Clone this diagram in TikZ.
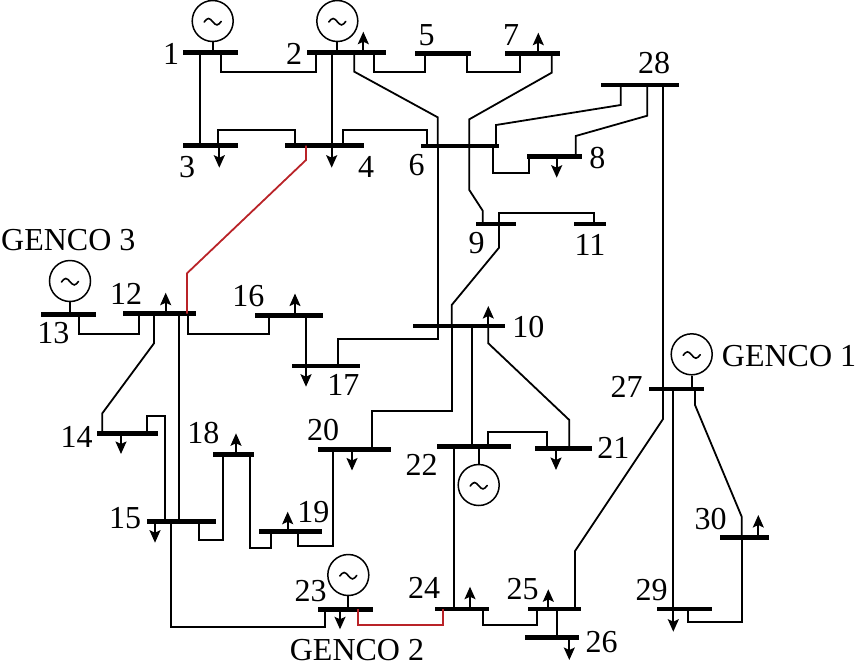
\documentclass[tikz,border=0pt]{standalone}
\usepackage{fontspec}
\setmainfont{Liberation Serif}
\usetikzlibrary{arrows.meta}
\definecolor{linered}{RGB}{185,35,40}
\begin{document}
\begin{tikzpicture}[x=1pt,y=-1pt,
  bus/.style={rectangle,fill=black,draw=none,inner sep=0pt,minimum height=4.8pt},
  ln/.style={line width=1.8pt},
  redln/.style={line width=1.8pt,draw=linered},
  load/.style={line width=1.8pt,-{Stealth[length=12.5pt,width=11pt,inset=2.5pt]}},
  gen/.style={circle,draw,line width=1.5pt,minimum size=41pt,inner sep=0pt},
  tld/.style={line width=1.6pt,line cap=round},
  lbl/.style={inner sep=0pt,font=\fontsize{32}{32}\selectfont}]
\useasboundingbox (0,0) rectangle (861,670);

% ---------- buses ----------
\node[bus,minimum width=55.6pt] (b1)  at (210.5,52.7) {};
\node[bus,minimum width=79.3pt] (b2)  at (346.3,52.7) {};
\node[bus,minimum width=55.7pt] (b5)  at (442.8,53.3) {};
\node[bus,minimum width=55pt]   (b7)  at (532.5,53.3) {};
\node[bus,minimum width=78.6pt] (b28) at (640,85) {};
\node[bus,minimum width=55.6pt] (b3)  at (210.5,145.7) {};
\node[bus,minimum width=79.3pt] (b4)  at (324.7,145.7) {};
\node[bus,minimum width=78.6pt] (b6)  at (460,146) {};
\node[bus,minimum width=55pt]   (b8)  at (554.2,156.7) {};
\node[bus,minimum width=40pt]   (b9)  at (495.5,224) {};
\node[bus,minimum width=32pt]   (b11) at (589.5,224) {};
\node[bus,minimum width=55.3pt] (b13) at (68.3,314.3) {};
\node[bus,minimum width=73.3pt] (b12) at (159.3,313.5) {};
\node[bus,minimum width=67.7pt] (b16) at (288.8,315.5) {};
\node[bus,minimum width=92.3pt] (b10) at (458.8,326) {};
\node[bus,minimum width=68.3pt] (b17) at (325.8,366) {};
\node[bus,minimum width=54.7pt] (b27) at (676.7,389) {};
\node[bus,minimum width=60.4pt] (b14) at (127.5,433.3) {};
\node[bus,minimum width=72.5pt] (b20) at (354.7,449.5) {};
\node[bus,minimum width=74pt]   (b22) at (473.7,446.7) {};
\node[bus,minimum width=56.7pt] (b21) at (563.3,448.7) {};
\node[bus,minimum width=41.6pt] (b18) at (233.5,454.3) {};
\node[bus,minimum width=68.7pt] (b15) at (181.7,521.7) {};
\node[bus,minimum width=62.7pt] (b19) at (290.3,531.7) {};
\node[bus,minimum width=49.3pt] (b30) at (744.7,537.7) {};
\node[bus,minimum width=55pt]   (b23) at (345.8,609.3) {};
\node[bus,minimum width=54.3pt] (b24) at (462.2,609) {};
\node[bus,minimum width=53.3pt] (b25) at (554.3,609) {};
\node[bus,minimum width=55pt]   (b29) at (684.2,609) {};
\node[bus,minimum width=54.3pt] (b26) at (552.2,637.7) {};

% ---------- generators ----------
\node[gen] (g1)  at (212.7,21) {};
\node[gen] (g2)  at (337.3,21) {};
\node[gen] (g13) at (70,281) {};
\node[gen] (g22) at (478.7,485) {};
\node[gen] (g23) at (348.3,575) {};
\node[gen] (g27) at (691.7,354.3) {};
\foreach \g in {g1,g2,g13,g22,g23,g27}{
  \draw[tld] (\g) ++(-8.5,1) sin ++(4.25,-3.5) cos ++(4.25,3.2) sin ++(4.25,3.2) cos ++(4.25,-3.5);
}
\draw[ln] (g1) -- (g1 |- b1);
\draw[ln] (g2) -- (g2 |- b2);
\draw[ln] (g13) -- (g13 |- b13);
\draw[ln] (g22) -- (g22 |- b22);
\draw[ln] (g23) -- (g23 |- b23);
\draw[ln] (g27) -- (g27 |- b27);

% ---------- labels ----------
\node[lbl] (l1)  at (171,54) {1};
\node[lbl] (l2)  at (294,54) {2};
\node[lbl] (l3)  at (187,167) {3};
\node[lbl] (l4)  at (366,167) {4};
\node[lbl] (l5)  at (426.7,35) {5};
\node[lbl] (l7)  at (511,35) {7};
\node[lbl] (l28) at (654,63) {28};
\node[lbl] (l6)  at (416.7,165) {6};
\node[lbl] (l8)  at (597.3,158.3) {8};
\node[lbl] (l9)  at (476.7,243.3) {9};
\node[lbl] (l11) at (590,245) {11};
\node[lbl] (l10) at (528.3,326.7) {10};
\node[lbl] (lg3) at (68.3,240) {GENCO 3};
\node[lbl] (l13) at (53.3,333.3) {13};
\node[lbl] (l12) at (126,294) {12};
\node[lbl] (l16) at (248.3,296) {16};
\node[lbl] (l17) at (343.3,385) {17};
\node[lbl] (l27) at (626.7,386.7) {27};
\node[lbl] (lg1) at (789,356) {GENCO 1};
\node[lbl] (l14) at (76.7,436.7) {14};
\node[lbl] (l18) at (203.3,433.3) {18};
\node[lbl] (l20) at (323,430) {20};
\node[lbl] (l22) at (421.7,465) {22};
\node[lbl] (l21) at (613.3,448.3) {21};
\node[lbl] (l15) at (125,518.3) {15};
\node[lbl] (l19) at (313.3,511.7) {19};
\node[lbl] (l30) at (710.7,519.3) {30};
\node[lbl] (l23) at (310.7,590.7) {23};
\node[lbl] (l24) at (424,588.3) {24};
\node[lbl] (l25) at (522.7,589.3) {25};
\node[lbl] (l29) at (651.7,590) {29};
\node[lbl] (l26) at (601.7,641.7) {26};
\node[lbl] (lg2) at (357,650) {GENCO 2};

% ---------- lines ----------
\draw[ln] (221,0 |- b1) -- (221,71.7) -- (316,71.7) -- (316,0 |- b2);
\draw[ln] (200,0 |- b1) -- (200,0 |- b3);
\draw[ln] (331.7,0 |- b2) -- (331.7,0 |- b4);
\draw[ln] (218.3,0 |- b3) -- (218.3,130) -- (295,130) -- (295,0 |- b4);
\draw[ln] (342.7,0 |- b4) -- (342.7,130) -- (427.3,130) -- (427.3,0 |- b6);
\draw[redln] (306,0 |- b4) -- (306,160) -- (187,273.3) -- (187,0 |- b12);
\draw[ln] (374,0 |- b2) -- (374,71.7) -- (425,71.7) -- (425,0 |- b5);
\draw[ln] (354.3,0 |- b2) -- (354.3,71.7) -- (437.7,117.3) -- (437.7,0 |- b6);
\draw[ln] (437.7,0 |- b6) -- (437.7,0 |- b10);
\draw[ln] (437.7,0 |- b10) -- (437.7,339.3) -- (337.7,339.3) -- (337.7,0 |- b17);
\draw[ln] (466.7,0 |- b5) -- (466.7,71.7) -- (520,71.7) -- (520,0 |- b7);
\draw[ln] (551.7,0 |- b7) -- (551.7,72.7) -- (469.3,119.3) -- (469.3,0 |- b6);
\draw[ln] (469.3,0 |- b6) -- (469.3,190) -- (482.7,210.7) -- (482.7,0 |- b9);
\draw[ln] (493.3,0 |- b6) -- (493.3,172.7) -- (529.3,172.7) -- (529.3,0 |- b8);
\draw[ln] (496,0 |- b6) -- (496,125) -- (620.7,105) -- (620.7,0 |- b28);
\draw[ln] (575.7,0 |- b8) -- (575.7,136) -- (647.3,115.7) -- (647.3,0 |- b28);
\draw[ln] (663,0 |- b28) -- (663,0 |- b27);
\draw[ln] (663,0 |- b27) -- (663,419) -- (575,551) -- (575,0 |- b25);
\draw[ln] (499,0 |- b9) -- (499,213.3) -- (594,213.3) -- (594,0 |- b11);
\draw[ln] (499,0 |- b9) -- (499,247.7) -- (451.7,305) -- (451.7,0 |- b10);
\draw[ln] (451.7,0 |- b10) -- (451.7,411) -- (371.7,411) -- (371.7,0 |- b20);
\draw[ln] (472.3,0 |- b10) -- (472.3,0 |- b22);
\draw[ln] (488.3,0 |- b10) -- (488.3,343.3) -- (569.3,420) -- (569.3,0 |- b21);
\draw[ln] (488.3,0 |- b22) -- (488.3,432.3) -- (546.7,432.3) -- (546.7,0 |- b21);
\draw[ln] (78.7,0 |- b13) -- (78.7,334) -- (139.3,334) -- (139.3,0 |- b12);
\draw[ln] (187.7,0 |- b12) -- (187.7,334) -- (268.7,334) -- (268.7,0 |- b16);
\draw[ln] (306,0 |- b16) -- (306,0 |- b17);
\draw[ln] (154,0 |- b12) -- (154,343.3) -- (102.3,413.3) -- (102.3,0 |- b14);
\draw[ln] (179.3,0 |- b12) -- (179.3,0 |- b15);
\draw[ln] (146.7,0 |- b14) -- (146.7,415.7) -- (165,415.7) -- (165,0 |- b15);
\draw[ln] (199.3,0 |- b15) -- (199.3,540) -- (222.7,540) -- (222.7,0 |- b18);
\draw[ln] (250,0 |- b18) -- (250,547.7) -- (270.7,547.7) -- (270.7,0 |- b19);
\draw[ln] (298.3,0 |- b19) -- (298.3,546) -- (332.7,546) -- (332.7,0 |- b20);
\draw[ln] (171,0 |- b15) -- (171,627.3) -- (325,627.3) -- (325,0 |- b23);
\draw[redln] (358.3,0 |- b23) -- (358.3,625) -- (443.3,625) -- (443.3,0 |- b24);
\draw[ln] (454,0 |- b22) -- (454,0 |- b24);
\draw[ln] (482.7,0 |- b24) -- (482.7,625) -- (537.3,625) -- (537.3,0 |- b25);
\draw[ln] (556.7,0 |- b25) -- (556.7,0 |- b26);
\draw[ln] (673.3,0 |- b27) -- (673.3,0 |- b29);
\draw[ln] (695,0 |- b27) -- (695,405) -- (741.7,516.7) -- (741.7,0 |- b30);
\draw[ln] (741.7,0 |- b30) -- (741.7,621.7) -- (687.7,621.7) -- (687.7,0 |- b29);

% ---------- loads ----------
\draw[load] (363.3,0 |- b2) -- (363.3,31.7);
\draw[load] (219.3,0 |- b3) -- (219.3,167.7);
\draw[load] (331.7,0 |- b4) -- (331.7,167.7);
\draw[load] (538.3,0 |- b7) -- (538.3,32.7);
\draw[load] (556.7,0 |- b8) -- (556.7,177.7);
\draw[load] (488.3,0 |- b10) -- (488.3,306);
\draw[load] (165.7,0 |- b12) -- (165.7,292.7);
\draw[load] (295,0 |- b16) -- (295,293.5);
\draw[load] (306,0 |- b17) -- (306,386.7);
\draw[load] (121,0 |- b14) -- (121,454);
\draw[load] (155,0 |- b15) -- (155,542.7);
\draw[load] (236,0 |- b18) -- (236,433.3);
\draw[load] (287.7,0 |- b19) -- (287.7,511.7);
\draw[load] (352,0 |- b20) -- (352,470.5);
\draw[load] (556,0 |- b21) -- (556,470);
\draw[load] (340,0 |- b23) -- (340,629.3);
\draw[load] (470,0 |- b24) -- (470,586.7);
\draw[load] (548.3,0 |- b25) -- (548.3,589.3);
\draw[load] (569.3,0 |- b26) -- (569.3,660);
\draw[load] (673.3,0 |- b29) -- (673.3,631.7);
\draw[load] (758.3,0 |- b30) -- (758.3,515);
\end{tikzpicture}
\end{document}
